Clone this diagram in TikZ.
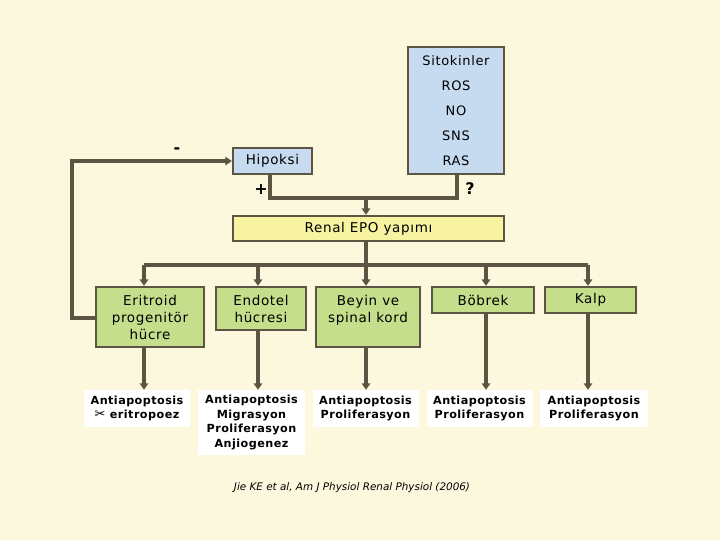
\documentclass[tikz,border=0pt]{standalone}
\usepackage{fontspec}
\setmainfont{DejaVu Sans}
\newfontfamily\lbl[LetterSpace=5]{DejaVu Sans}
\newfontfamily\wlbl[LetterSpace=4]{DejaVu Sans}
\newfontfamily\sym{DejaVu Sans}
\usetikzlibrary{arrows.meta}
\definecolor{bg}{RGB}{252,248,222}
\definecolor{bc}{RGB}{94,84,68}
\definecolor{blu}{RGB}{198,218,240}
\definecolor{yel}{RGB}{247,243,160}
\definecolor{grn}{RGB}{196,222,140}
\tikzset{
  box/.style={draw=bc, line width=2.3pt, align=center, inner sep=0pt,
    font=\lbl\fontsize{13.5}{17}\selectfont},
  bbox/.style={box, fill=blu},
  ybox/.style={box, fill=yel},
  gbox/.style={box, fill=grn},
  wbox/.style={fill=white, align=center, inner sep=0pt,
    font=\wlbl\bfseries\fontsize{11.2}{14.5}\selectfont},
  conn/.style={draw=bc, line width=3.2pt},
  arr/.style={conn, -{Triangle[length=6.5pt,width=8.5pt]}},
  sign/.style={font=\bfseries\fontsize{16}{16}\selectfont, text=black, inner sep=0pt}
}
\begin{document}
\begin{tikzpicture}[x=1pt,y=-1pt]
\fill[bg] (0,0) rectangle (720,540);
\useasboundingbox (0,0) rectangle (720,540);

% top boxes
\node[bbox, minimum width=96pt, minimum height=127pt, font=\lbl\fontsize{13}{25}\selectfont] (sk) at (456,110.5)
  {Sitokinler\\ROS\\NO\\SNS\\RAS};
\node[bbox, minimum width=79pt, minimum height=26pt] (hk) at (272.5,161) {Hipoksi};
\node[ybox, minimum width=271pt, minimum height=25pt] (re) at (368.5,228.5) {Renal EPO yapımı};

% green boxes
\node[gbox, minimum width=108pt, minimum height=60pt] (gE) at (150,317) {Eritroid\\progenitör\\hücre};
\node[gbox, minimum width=90pt, minimum height=43pt] (gN) at (261,308.5) {Endotel\\hücresi};
\node[gbox, minimum width=104pt, minimum height=60pt] (gB) at (368,317) {Beyin ve\\spinal kord\\\mbox{}};
\node[gbox, minimum width=102pt, minimum height=26pt] (gK) at (483,300) {Böbrek};
\node[gbox, minimum width=91pt, minimum height=26pt] (gL) at (590.5,300) {Kalp};

% white boxes
\node[wbox, minimum width=106pt, minimum height=37pt] (wE) at (137,408.5) {Antiapoptosis\\{\sym\fontsize{13}{13}\selectfont ✂} eritropoez};
\node[wbox, minimum width=107pt, minimum height=65pt] (wN) at (251.5,422.5) {Antiapoptosis\\Migrasyon\\Proliferasyon\\Anjiogenez};
\node[wbox, minimum width=106pt, minimum height=37pt] (wB) at (365.5,408.5) {Antiapoptosis\\Proliferasyon};
\node[wbox, minimum width=106pt, minimum height=37pt] (wK) at (479.5,408.5) {Antiapoptosis\\Proliferasyon};
\node[wbox, minimum width=108pt, minimum height=37pt] (wL) at (594,408.5) {Antiapoptosis\\Proliferasyon};

% signs
\node[sign] (minus) at (177,151) {-};
\node[sign] (plus) at (261,189) {+};
\node[sign] (qm) at (470,189) {?};

% citation
\node[font=\itshape\fontsize{10.4}{12}\selectfont, inner sep=0pt] (cite) at (352,488)
  {Jie KE et al, Am J Physiol Renal Physiol (2006)};

% connector coordinates
\coordinate (hx) at (270,198);
\coordinate (sx) at (457,198);
\coordinate (jx) at (366,198);
\coordinate (b1) at (144,265);
\coordinate (b2) at (258,265);
\coordinate (b3) at (366,265);
\coordinate (b4) at (486,265);
\coordinate (b5) at (588,265);
\coordinate (fb1) at (72,318);
\coordinate (fb2) at (72,161);

% top join
\draw[conn] (hx |- hk.south) -- (hx) -- (sx) -- (sx |- sk.south);
\draw[arr] (jx) -- (jx |- re.north);
% distribution bus
\draw[conn] (b3 |- re.south) -- (b3);
\draw[conn] (b1) -- (b5);
\foreach \b/\g/\w in {b1/gE/wE, b2/gN/wN, b3/gB/wB, b4/gK/wK, b5/gL/wL}{
  \draw[arr] (\b) -- (\b |- \g.north);
  \draw[arr] (\b |- \g.south) -- (\b |- \w.north);
}
% feedback
\draw[arr] (fb1 -| gE.west) -- (fb1) -- (fb2) -- (hk.west);
\end{tikzpicture}
\end{document}
